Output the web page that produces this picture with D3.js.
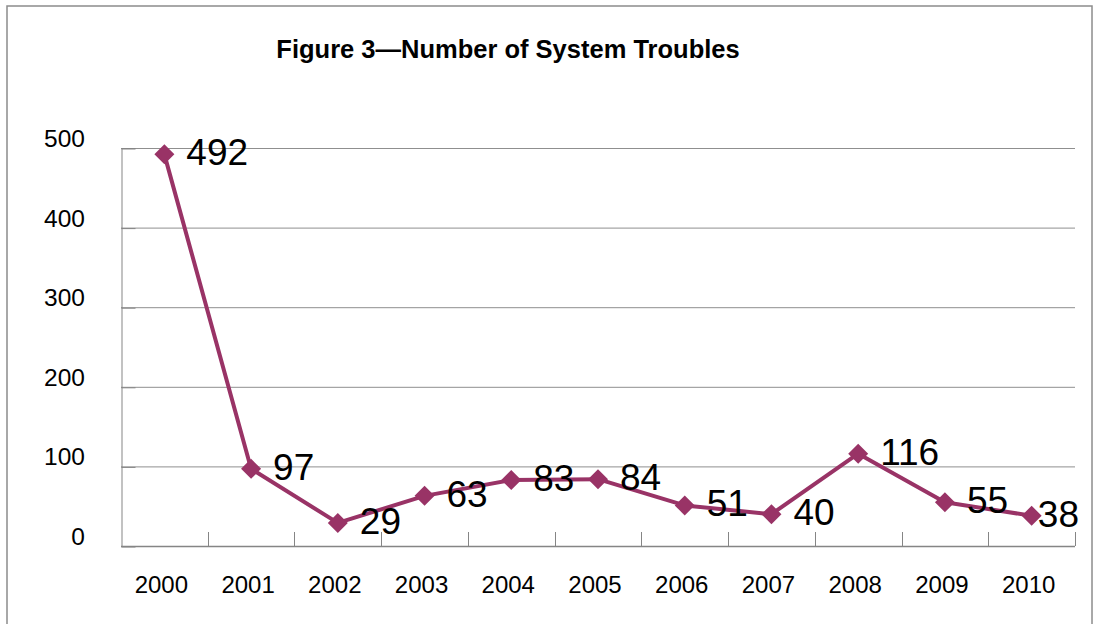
<!DOCTYPE html>
<html>
<head>
<meta charset="utf-8">
<script src="https://cdn.jsdelivr.net/npm/d3@7"></script>
<style>
  body { margin: 0; background: #fff; }
  svg { display: block; font-family: Arial, "Liberation Sans", sans-serif; }
</style>
</head>
<body>
<script>
const years = ["2000", "2001", "2002", "2003", "2004", "2005", "2006", "2007", "2008", "2009", "2010"];
const troubles = [492, 97, 29, 63, 83, 84, 51, 40, 116, 55, 38];
const yTicks = [0, 100, 200, 300, 400, 500];
const title = "Figure 3\u2014Number of System Troubles";

document.addEventListener("DOMContentLoaded", () => {

  const w = 1097;
  const h = 624;
  const left = 121, right = 1075, top = 148, bottom = 546;
  const color = "#993366";

  const svg = d3.select("body")
  .append("svg")
  .attr("width", w)
  .attr("height", h);

  // outer chart border (bottom edge runs off the picture)
  svg.append("rect")
  .attr("x", 7)
  .attr("y", 6)
  .attr("width", 1085)
  .attr("height", 640)
  .attr("fill", "none")
  .attr("stroke", "#8c8c8c")
  .attr("stroke-width", 1.5);

  svg.append("text")
  .attr("x", 508)
  .attr("y", 58)
  .attr("text-anchor", "middle")
  .style("font-size", "25.5px")
  .style("font-weight", "bold")
  .text(title);

  const x = d3.scaleBand()
  .domain(years)
  .range([left, right]);

  const y = d3.scaleLinear()
  .domain([0, 500])
  .range([bottom, top]);

  // gridlines
  svg.selectAll("line.grid")
  .data(yTicks.filter((d) => d > 0))
  .enter()
  .append("line")
  .attr("class", "grid")
  .attr("x1", left)
  .attr("x2", right)
  .attr("y1", (d) => y(d) + 0.5)
  .attr("y2", (d) => y(d) + 0.5)
  .attr("stroke", "#8f8f8f")
  .attr("stroke-width", 1);

  // y axis
  const yAxis = svg.append("g")
  .attr("transform", `translate(${left + 0.5},0)`)
  .call(d3.axisRight(y).tickValues(yTicks).tickSize(14).tickFormat(""));
  yAxis.select(".domain").attr("stroke", "#858585");
  yAxis.selectAll(".tick line").attr("stroke", "#858585").attr("transform", "translate(0,0.5)");

  svg.selectAll("text.ylab")
  .data(yTicks)
  .enter()
  .append("text")
  .attr("class", "ylab")
  .attr("x", 85)
  .attr("y", (d) => y(d) - 1)
  .attr("text-anchor", "end")
  .style("font-size", "24.5px")
  .text((d) => d);

  // x axis with inward ticks at category boundaries
  svg.append("line")
  .attr("x1", left)
  .attr("x2", right)
  .attr("y1", bottom + 0.5)
  .attr("y2", bottom + 0.5)
  .attr("stroke", "#858585")
  .attr("stroke-width", 1.5);

  svg.selectAll("line.xtick")
  .data(years.slice(1).concat(["end"]))
  .enter()
  .append("line")
  .attr("class", "xtick")
  .attr("x1", (d, i) => Math.round(left + (i + 1) * x.step()) + 0.5)
  .attr("x2", (d, i) => Math.round(left + (i + 1) * x.step()) + 0.5)
  .attr("y1", bottom - 14)
  .attr("y2", bottom)
  .attr("stroke", "#858585");

  svg.selectAll("text.xlab")
  .data(years)
  .enter()
  .append("text")
  .attr("class", "xlab")
  .attr("x", (d) => x(d) + x.bandwidth() / 2 - 3)
  .attr("y", 593)
  .attr("text-anchor", "middle")
  .style("font-size", "24px")
  .text((d) => d);

  // series
  const pts = troubles.map((v, i) => [x(years[i]) + x.bandwidth() / 2, y(v)]);

  svg.append("path")
  .attr("d", d3.line()(pts))
  .attr("fill", "none")
  .attr("stroke", color)
  .attr("stroke-width", 4)
  .attr("stroke-linejoin", "round");

  svg.selectAll("path.marker")
  .data(pts)
  .enter()
  .append("path")
  .attr("class", "marker")
  .attr("d", d3.symbol(d3.symbolSquare, 200)())
  .attr("transform", (d) => `translate(${d[0]},${d[1]}) rotate(45)`)
  .attr("fill", color);

  svg.selectAll("text.val")
  .data(troubles)
  .enter()
  .append("text")
  .attr("class", "val")
  .attr("y", (d) => y(d) + 11)
  .style("font-size", "37px")
  .text((d) => d)
  .attr("x", function(d, i) {
    const tw = this.getComputedTextLength();
    return Math.min(pts[i][0] + 22, 1079 - tw);
  });

});
</script>
</body>
</html>
